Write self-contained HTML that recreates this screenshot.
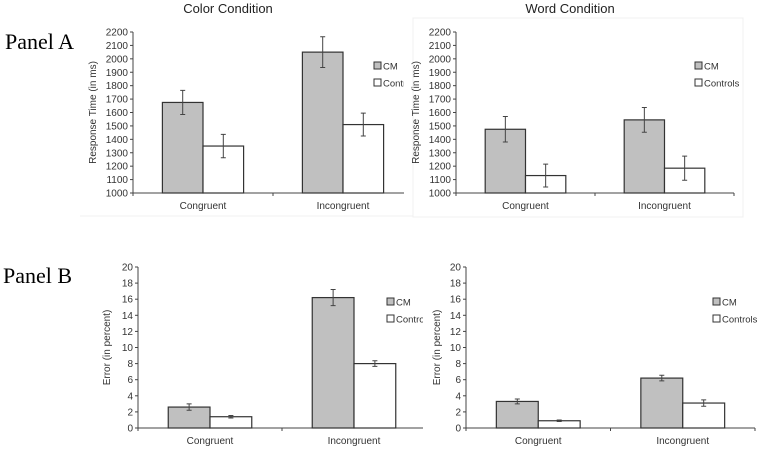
<!DOCTYPE html>
<html><head><meta charset="utf-8"><style>
body{margin:0;background:#fff;width:760px;height:450px;overflow:hidden;font-family:"Liberation Sans",sans-serif}
svg text{font-family:"Liberation Sans",sans-serif}
</style></head><body>
<svg id="s" width="760" height="450">
<rect x="413" y="18" width="330" height="199" fill="none" stroke="#f0f0f0"/>
<line x1="80" y1="216" x2="413" y2="216" stroke="#f0f0f0"/>
<text x="228" y="13" text-anchor="middle" font-size="13" fill="#222">Color Condition</text>
<text x="570" y="13" text-anchor="middle" font-size="13" fill="#222">Word Condition</text>
<text x="5" y="49" font-size="22" style="font-family:'Liberation Serif',serif">Panel A</text>
<text x="3" y="283" font-size="22" style="font-family:'Liberation Serif',serif">Panel B</text>
</svg>
<script>
const categories=["Congruent","Incongruent"];
const seriesNames=["CM","Controls"];
const rtColorCM=[1675,2050], rtColorCMErr=[90,115];
const rtColorCont=[1350,1510], rtColorContErr=[87,85];
const rtWordCM=[1475,1545], rtWordCMErr=[95,92];
const rtWordCont=[1130,1185], rtWordContErr=[85,90];
const errColorCM=[2.6,16.2], errColorCMErr=[0.4,1.0];
const errColorCont=[1.4,8.0], errColorContErr=[0.15,0.35];
const errWordCM=[3.3,6.2], errWordCMErr=[0.3,0.35];
const errWordCont=[0.9,3.1], errWordContErr=[0.1,0.4];
const rtTicks=[1000,1100,1200,1300,1400,1500,1600,1700,1800,1900,2000,2100,2200];
const errTicks=[0,2,4,6,8,10,12,14,16,18,20];

const NS="http://www.w3.org/2000/svg", svg=document.getElementById('s');
function mk(tag,at,parent){const e=document.createElementNS(NS,tag);for(const k in at)e.setAttribute(k,at[k]);(parent||svg).appendChild(e);return e;}
function chart(o){
  const g=mk('g',{});
  
  
  if(o.clip){const cp=mk('clipPath',{id:o.name+'-clip'},g);mk('rect',{x:0,y:0,width:o.clip,height:450},cp);g.setAttribute('clip-path','url(#'+o.name+'-clip)');}
  const t0=o.ticks[0],t1=o.ticks[o.ticks.length-1];
  const y=v=>o.yb-(v-t0)/(t1-t0)*(o.yb-o.yt);
  const cw=(o.xe-o.x0)/categories.length;
  const x=i=>o.x0+cw*i;
  const ax=mk('line',{x1:o.x0,y1:o.yt,x2:o.x0,y2:o.yb,stroke:'#444'},g);
  
  
  const xa=mk('line',{x1:o.x0,y1:o.yb,x2:o.xe,y2:o.yb,stroke:'#444'},g);
  
  
  o.ticks.forEach(t=>{
    mk('line',{x1:o.x0-3,y1:y(t),x2:o.x0,y2:y(t),stroke:'#444'},g);
    const tx=mk('text',{x:o.x0-5,y:y(t)+3.5,'text-anchor':'end','font-size':10,fill:'#333'},g);
    tx.textContent=t;
    
    
  });
  for(let i=0;i<=categories.length;i++)mk('line',{x1:x(i),y1:o.yb,x2:x(i),y2:o.yb+3,stroke:'#444'},g);
  const yt=mk('text',{x:0,y:0,transform:`translate(${o.titleX},${(o.yt+o.yb)/2}) rotate(-90)`,'text-anchor':'middle','font-size':10,fill:'#333'},g);
  yt.textContent=o.ytitle;
  
  
  const bw=cw*0.29;
  const series=[[o.a,o.ae,'#c0c0c0'],[o.b,o.be,'#fff']];
  categories.forEach((c,i)=>{
    const cx=x(i)+cw/2;
    const lb=mk('text',{x:cx,y:o.yb+16,'text-anchor':'middle','font-size':10,fill:'#333'},g);
    lb.textContent=c;
    
    
    series.forEach((s,j)=>{
      const bx=cx-bw+j*bw, v=s[0][i], e=s[1][i];
      const r=mk('rect',{x:bx,y:y(v),width:bw,height:o.yb-y(v),fill:s[2],stroke:'#333','stroke-width':1.2},g);
      
      
      const ex=bx+bw/2;
      const eb=mk('path',{d:`M${ex},${y(v+e)}V${y(v-e)}M${ex-2.5},${y(v+e)}h5M${ex-2.5},${y(v-e)}h5`,stroke:'#444',fill:'none'},g);
      
      
    });
  });
  seriesNames.forEach((n,j)=>{
    const ly=o.legY+j*17;
    const sq=mk('rect',{x:o.legX,y:ly-4,width:7,height:7,fill:j?'#fff':'#c0c0c0',stroke:'#333'},g);
    
    
    const lt=mk('text',{x:o.legX+9,y:ly+3.5,'font-size':9.5,fill:'#333'},g);
    lt.textContent=n;
    
    
  });
}
chart({name:'rt-color-chart',x0:133,xe:413,yt:32,yb:193,ticks:rtTicks,a:rtColorCM,ae:rtColorCMErr,b:rtColorCont,be:rtColorContErr,titleX:96,ytitle:'Response Time (in ms)',legX:374,legY:66,clip:404});
chart({name:'rt-word-chart',x0:456,xe:734,yt:32,yb:193,ticks:rtTicks,a:rtWordCM,ae:rtWordCMErr,b:rtWordCont,be:rtWordContErr,titleX:419,ytitle:'Response Time (in ms)',legX:695,legY:66});
chart({name:'error-color-chart',x0:138,xe:426,yt:267,yb:428,ticks:errTicks,a:errColorCM,ae:errColorCMErr,b:errColorCont,be:errColorContErr,titleX:110,ytitle:'Error (in percent)',legX:387,legY:302,clip:423});
chart({name:'error-word-chart',x0:466,xe:755,yt:267,yb:428,ticks:errTicks,a:errWordCM,ae:errWordCMErr,b:errWordCont,be:errWordContErr,titleX:440,ytitle:'Error (in percent)',legX:713,legY:302});
</script>
</body></html>
